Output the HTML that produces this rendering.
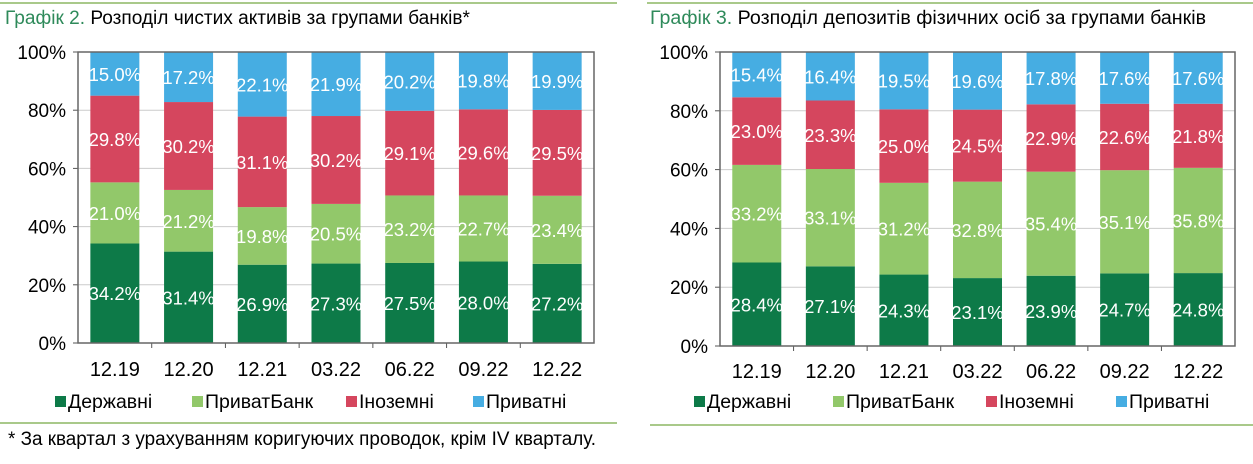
<!DOCTYPE html>
<html><head><meta charset="utf-8"><style>
body{margin:0;background:#fff;width:1253px;height:464px;overflow:hidden;font-family:"Liberation Sans",sans-serif}
svg{position:absolute;left:0;top:0}
</style></head><body>
<svg id="s" width="1253" height="464">
<line x1="0" y1="3" x2="617" y2="3" stroke="#a9c98a" stroke-width="2"/>
<line x1="647" y1="3" x2="1253" y2="3" stroke="#a9c98a" stroke-width="2"/>
<text x="5" y="24" font-size="19" textLength="465" lengthAdjust="spacingAndGlyphs"><tspan fill="#2e8a5a">Графік 2.</tspan> Розподіл чистих активів за групами банків*</text>
<text x="650" y="24" font-size="19" textLength="556" lengthAdjust="spacingAndGlyphs"><tspan fill="#2e8a5a">Графік 3.</tspan> Розподіл депозитів фізичних осіб за групами банків</text>
<line x1="0" y1="423" x2="617" y2="423" stroke="#a9c98a" stroke-width="2"/>
<line x1="650" y1="425" x2="1253" y2="425" stroke="#a9c98a" stroke-width="2"/>
<text x="8" y="445" font-size="19" textLength="588" lengthAdjust="spacingAndGlyphs">* За квартал з урахуванням коригуючих проводок, крім IV кварталу.</text>
</svg>
<script>
const categories=["12.19","12.20","12.21","03.22","06.22","09.22","12.22"];
const seriesNames=["Державні","ПриватБанк","Іноземні","Приватні"];
const colors=["#0d7a48","#92c86a","#d5465e","#46ade2"];
const assetsState=[34.2,31.4,26.9,27.3,27.5,28.0,27.2];
const assetsPrivat=[21.0,21.2,19.8,20.5,23.2,22.7,23.4];
const assetsForeign=[29.8,30.2,31.1,30.2,29.1,29.6,29.5];
const assetsPrivate=[15.0,17.2,22.1,21.9,20.2,19.8,19.9];
const depState=[28.4,27.1,24.3,23.1,23.9,24.7,24.8];
const depPrivat=[33.2,33.1,31.2,32.8,35.4,35.1,35.8];
const depForeign=[23.0,23.3,25.0,24.5,22.9,22.6,21.8];
const depPrivate=[15.4,16.4,19.5,19.6,17.8,17.6,17.6];
const yTicks=[0,20,40,60,80,100];
const NS="http://www.w3.org/2000/svg";
const svg=document.getElementById('s');
function mk(tag,attrs){const e=document.createElementNS(NS,tag);for(const k in attrs)e.setAttribute(k,attrs[k]);svg.appendChild(e);return e;}
function chart(key,x0,x1,y0,y1,series,labX,legY,legXs){
  const y=v=>y1-(v/100)*(y1-y0);
  const step=(x1-x0)/categories.length;
  const xc=i=>x0+step*(i+0.5);
  const bw=49;
  yTicks.forEach(t=>{
    if(t>0&&t<100){const g=mk('line',{x1:x0,x2:x1,y1:y(t),y2:y(t),stroke:'#ccc','stroke-width':1});
    
    }
    const tx=mk('text',{x:x0-12,y:y(t)+7,'font-size':19,'text-anchor':'end'});tx.textContent=t+'%';
    
    
    const tk=mk('line',{x1:x0-5,x2:x0,y1:y(t),y2:y(t),stroke:'#555'});
    
    
  });
  categories.forEach((c,i)=>{
    let acc=0;
    series.forEach((arr,s)=>{
      const v=arr[i];
      const r=mk('rect',{x:xc(i)-bw/2,y:y(acc+v),width:bw,height:y(acc)-y(acc+v),fill:colors[s]});
      
      
      const t=mk('text',{x:xc(i),y:y(acc+v/2)+7,'font-size':18.5,fill:'#fff','text-anchor':'middle'});
      t.textContent=v.toFixed(1)+'%';
      
      
      acc+=v;
    });
    const l=mk('text',{x:xc(i),y:labX,'font-size':20,'text-anchor':'middle'});l.textContent=c;
    
    
    if(i>0){const tk=mk('line',{x1:x0+step*i,x2:x0+step*i,y1:y1,y2:y1+5,stroke:'#555'});
    
    }
  });
  const f=mk('rect',{x:x0,y:y0,width:x1-x0,height:y1-y0,fill:'none',stroke:'#666','stroke-width':1.5});
  
  
  seriesNames.forEach((n,s)=>{
    const r=mk('rect',{x:legXs[s],y:legY-12,width:11,height:11,fill:colors[s]});
    
    
    const t=mk('text',{x:legXs[s]+13,y:legY,'font-size':19.5});t.textContent=n;
    
    
  });
}
chart('assets',78,594,52,343,[assetsState,assetsPrivat,assetsForeign,assetsPrivate],376,408,[55,192,346,473]);
chart('deposits',720,1235,52,346,[depState,depPrivat,depForeign,depPrivate],378,408,[694,833,986,1116]);
</script>
</body></html>
